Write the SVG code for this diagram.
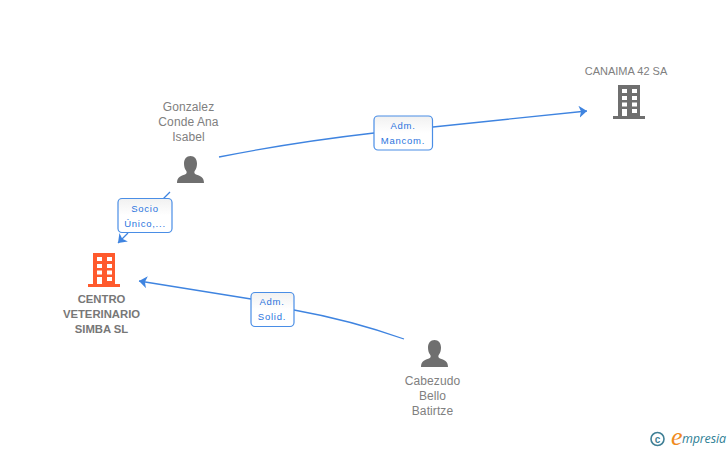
<svg xmlns="http://www.w3.org/2000/svg" width="728" height="450" viewBox="0 0 728 450">
<style>
text{font-family:"Liberation Sans",Arial,sans-serif}
.n{font-size:12px;fill:#808080;text-anchor:middle;letter-spacing:.1px}
.b{font-size:11.300px;font-weight:bold;fill:#777;text-anchor:middle}
.l{font-size:9.500px;fill:#2b74de;text-anchor:middle;letter-spacing:.75px}
.c{fill:none;stroke:#3f84e0;stroke-width:1.300}
.box{fill:url(#g);stroke:#4a8ee6;stroke-width:1.200}
.w{fill:#fff}
</style>
<defs>
<linearGradient id="g" x1="0" y1="0" x2="0" y2="1"><stop offset="0" stop-color="#f1f1f1"/><stop offset=".5" stop-color="#fff"/></linearGradient>
<marker id="a" markerUnits="userSpaceOnUse" markerWidth="10" markerHeight="13" refX="8" refY="6" orient="auto"><path d="M0 0L8 6L0 12L2 6Z" fill="#3f84e0"/></marker>
<symbol id="bld" viewBox="0 0 32 34" overflow="visible">
<rect x="5" y="0" width="22" height="31"/><rect x="0" y="31" width="32" height="3"/>
<g class="w"><rect x="9" y="4" width="5" height="4"/><rect x="19" y="4" width="5" height="4"/><rect x="9" y="11" width="5" height="4"/><rect x="19" y="11" width="5" height="4"/><rect x="9" y="17.500" width="5" height="4"/><rect x="19" y="17.500" width="5" height="4"/><rect x="9" y="24" width="5" height="7"/><rect x="19" y="24" width="5" height="4"/></g>
</symbol>
<path id="p" d="M0 27C0 21 4 20 8 18.500C10 17.500 10 16 9 14.500C7.500 12.500 7 10 7 7.500C7 3 9.500 0 13.500 0C17.500 0 20 3 20 7.500C20 10 19.500 12.500 18 14.500C17 16 17 17.500 19 18.500C23 20 27 21 27 27Z" fill="#6f6f6f"/>
</defs>
<rect width="728" height="450" fill="#fff"/>
<g id="connectors">
<path class="c" d="M219 157Q295 142 374 133M433 127L587 111" marker-end="url(#a)"/>
<path class="c" d="M170 192L163 199M128 233L118 243" marker-end="url(#a)"/>
<path class="c" d="M404 339Q350 320 294 310M251 299L139 281" marker-end="url(#a)"/>
</g>
<g id="edge-adm-mancom"><rect class="box" x="374" y="116" width="58.500" height="34" rx="4"/><text class="l" x="403" y="129">Adm.</text><text class="l" x="403" y="144">Mancom.</text></g>
<g id="edge-socio"><rect class="box" x="118" y="198.500" width="54" height="34" rx="4"/><text class="l" x="145" y="212">Socio</text><text class="l" x="145" y="227">Único,...</text></g>
<g id="edge-adm-solid"><rect class="box" x="251" y="292.500" width="43" height="34" rx="4"/><text class="l" x="272" y="305">Adm.</text><text class="l" x="272" y="320">Solid.</text></g>
<g id="node-canaima"><text class="n" x="626" y="75" style="font-size:11px;letter-spacing:0">CANAIMA 42 SA</text><use href="#bld" x="613" y="85" width="32" height="34" fill="#6f6f6f"/></g>
<g id="node-gonzalez"><text class="n" x="188.500" y="111">Gonzalez</text><text class="n" x="188.500" y="126">Conde Ana</text><text class="n" x="188.500" y="141">Isabel</text><use href="#p" x="177" y="156"/></g>
<g id="node-centro"><use href="#bld" x="88" y="253" width="32" height="34" fill="#ff5a2d"/><text class="b" x="101.500" y="303">CENTRO</text><text class="b" x="101.500" y="318">VETERINARIO</text><text class="b" x="101.500" y="333">SIMBA SL</text></g>
<g id="node-cabezudo"><use href="#p" x="421" y="340"/><text class="n" x="432.500" y="385">Cabezudo</text><text class="n" x="432.500" y="400">Bello</text><text class="n" x="432.500" y="415">Batirtze</text></g>
<g id="logo"><circle cx="657.500" cy="439" r="6.500" fill="none" stroke="#3f7f95" stroke-width="1.600"/><text x="657.500" y="442.500" font-size="10" font-weight="bold" fill="#3f7f95" text-anchor="middle">c</text><text x="671" y="445" style="font-family:'Liberation Serif',serif;font-style:italic" font-size="26" fill="#f08a1d">e</text><text x="682" y="443" style="font-family:'Open Sans',sans-serif;font-style:italic" font-size="12.500" fill="#2f7f95" textLength="44">mpresia</text></g>
</svg>
